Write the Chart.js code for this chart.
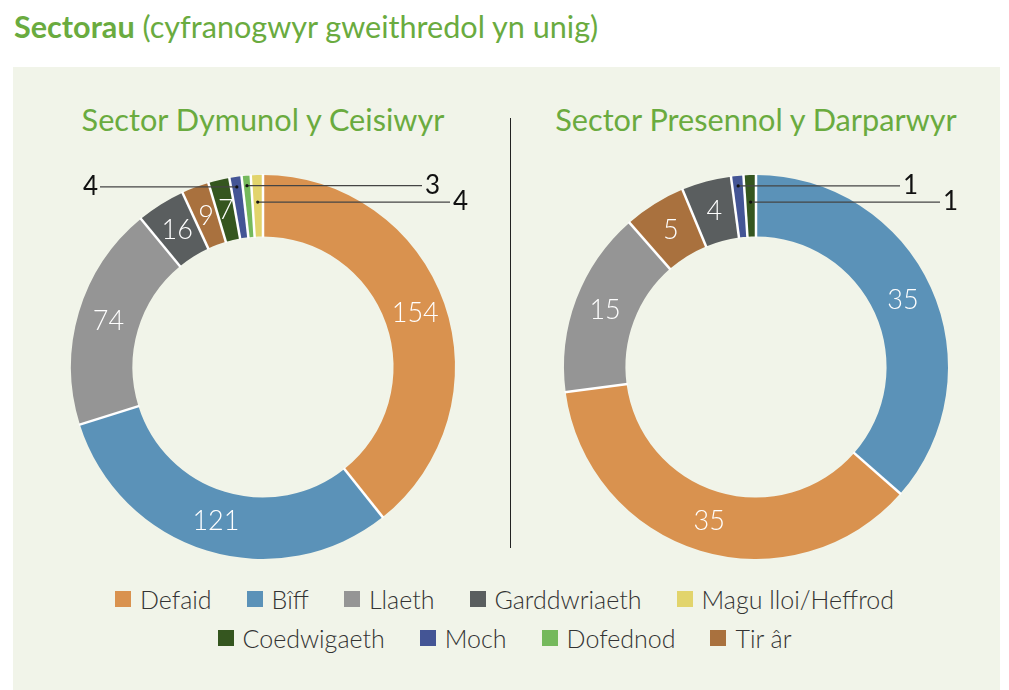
<!DOCTYPE html>
<html>
<head>
<meta charset="utf-8">
<script src="https://cdn.jsdelivr.net/npm/chart.js@4.4.1/dist/chart.umd.min.js"></script>
<style>
  body { margin: 0; background: #fff; font-family: Lato, "Open Sans", sans-serif; width: 1009px; height: 690px; position: relative; overflow: hidden; }
  #title { position: absolute; left: 14px; top: 8px; font-size: 30.6px; color: #6aab3f; white-space: nowrap; }
  #title b { font-weight: 700; }
  #panel { position: absolute; left: 13px; top: 67px; width: 987px; height: 640px; background: #f1f4e9; }
  .sub { position: absolute; top: 101px; width: 480px; text-align: center; font-size: 30.7px; color: #6aab3f; white-space: nowrap; }
  .sep { position: absolute; left: 510px; top: 118px; width: 1px; height: 430px; background: #222; }
  .box { position: absolute; top: 157px; width: 480px; height: 420px; }
  #legend { position: absolute; left: 0; top: 579px; width: 1009px; font-size: 25px; font-weight: 300; color: #333; }
  .row { display: flex; justify-content: center; height: 39px; align-items: center; }
  .item { display: flex; align-items: center; margin: 0 17.5px; white-space: nowrap; }
  .swatch { width: 16px; height: 16px; margin-right: 9px; }
</style>
</head>
<body>
<div id="title"><b>Sectorau</b> (cyfranogwyr gweithredol yn unig)</div>
<div id="panel"></div>
<div class="sub" style="left:23px">Sector Dymunol y Ceisiwyr</div>
<div class="sub" style="left:516px">Sector Presennol y Darparwyr</div>
<div class="sep"></div>
<div class="box" style="left:23px"><canvas id="chartCeisiwyr"></canvas></div>
<div class="box" style="left:516px"><canvas id="chartDarparwyr"></canvas></div>
<div id="legend"></div>
<script>
// legend order
const legendRow1 = ['Defaid', 'Bîff', 'Llaeth', 'Garddwriaeth', 'Magu lloi/Heffrod'];
const legendRow2 = ['Coedwigaeth', 'Moch', 'Dofednod', 'Tir âr'];

// Sector Dymunol y Ceisiwyr (clockwise from the top)
const ceisiwyrSectors = ['Defaid', 'Bîff', 'Llaeth', 'Garddwriaeth', 'Tir âr', 'Coedwigaeth', 'Moch', 'Dofednod', 'Magu lloi/Heffrod'];
const ceisiwyrValues = [154, 121, 74, 16, 9, 7, 4, 3, 4];

// Sector Presennol y Darparwyr (clockwise from the top)
const darparwyrSectors = ['Bîff', 'Defaid', 'Llaeth', 'Tir âr', 'Garddwriaeth', 'Moch', 'Coedwigaeth'];
const darparwyrValues = [35, 35, 15, 5, 4, 1, 1];

const colours = {
  'Defaid': '#d9924f',
  'Bîff': '#5b92b8',
  'Llaeth': '#959595',
  'Garddwriaeth': '#5a5e5f',
  'Magu lloi/Heffrod': '#e2d46c',
  'Coedwigaeth': '#35561f',
  'Moch': '#445595',
  'Dofednod': '#75b95c',
  'Tir âr': '#a9713e'
};

// white lines between the slices only (no rim round the ring)
const separators = {
  id: 'separators',
  afterDatasetsDraw(chart) {
    const ctx = chart.ctx;
    ctx.save();
    ctx.strokeStyle = '#fff';
    ctx.lineWidth = 2.5;
    chart.getDatasetMeta(0).data.forEach(arc => {
      const a = arc.startAngle;
      ctx.beginPath();
      ctx.moveTo(arc.x + Math.cos(a) * (arc.innerRadius - 1), arc.y + Math.sin(a) * (arc.innerRadius - 1));
      ctx.lineTo(arc.x + Math.cos(a) * (arc.outerRadius + 1), arc.y + Math.sin(a) * (arc.outerRadius + 1));
      ctx.stroke();
    });
    ctx.restore();
  }
};

// numbers inside the slices, leader lines for the thin ones
const valueLabels = {
  id: 'valueLabels',
  afterDatasetsDraw(chart, args, opts) {
    const ctx = chart.ctx;
    const values = chart.data.datasets[0].data;
    ctx.save();
    ctx.textBaseline = 'middle';
    chart.getDatasetMeta(0).data.forEach((arc, i) => {
      const co = opts.callouts[i];
      if (co) {
        const mid = (arc.startAngle + arc.endAngle) / 2;
        const px = arc.x + Math.cos(mid) * (arc.outerRadius + co.r);
        const py = arc.y + Math.sin(mid) * (arc.outerRadius + co.r);
        const ex = arc.x + co.dx;
        ctx.strokeStyle = '#444';
        ctx.lineWidth = 1.2;
        ctx.beginPath();
        ctx.moveTo(px, py);
        ctx.lineTo(ex, py);
        ctx.stroke();
        ctx.fillStyle = '#111';
        ctx.beginPath();
        ctx.arc(px, py, 1.6, 0, Math.PI * 2);
        ctx.fill();
        ctx.font = '400 26px Lato';
        ctx.textAlign = co.dx < 0 ? 'right' : 'left';
        ctx.fillText(values[i], ex + (co.dx < 0 ? -2 : 3), py);
      } else {
        const p = arc.tooltipPosition();
        ctx.fillStyle = '#fff';
        ctx.font = '300 27px Lato';
        ctx.textAlign = 'center';
        ctx.fillText(values[i], p.x, p.y);
      }
    });
    ctx.restore();
  }
};

function donut(id, sectors, values, callouts) {
  return new Chart(document.getElementById(id), {
    type: 'doughnut',
    data: {
      labels: sectors,
      datasets: [{
        data: values,
        backgroundColor: sectors.map(s => colours[s]),
        borderWidth: 0
      }]
    },
    options: {
      responsive: true,
      maintainAspectRatio: false,
      animation: false,
      events: [],
      cutout: '68%',
      layout: { padding: { top: 18, bottom: 18, left: 0, right: 0 } },
      plugins: {
        legend: { display: false },
        tooltip: { enabled: false },
        valueLabels: { callouts: callouts }
      }
    },
    plugins: [separators, valueLabels]
  });
}

donut('chartCeisiwyr', ceisiwyrSectors, ceisiwyrValues, {
  6: { r: -10, dx: -163 },
  7: { r: -10, dx: 159 },
  8: { r: -27, dx: 187 }
});
donut('chartDarparwyr', darparwyrSectors, darparwyrValues, {
  5: { r: -10, dx: 144 },
  6: { r: -27, dx: 184 }
});

// shared legend
const legend = document.getElementById('legend');
[legendRow1, legendRow2].forEach(row => {
  const div = document.createElement('div');
  div.className = 'row';
  row.forEach(name => {
    const item = document.createElement('div');
    item.className = 'item';
    item.innerHTML = '<span class="swatch" style="background:' + colours[name] + '"></span>' + name;
    div.appendChild(item);
  });
  legend.appendChild(div);
});
</script>
</body>
</html>
